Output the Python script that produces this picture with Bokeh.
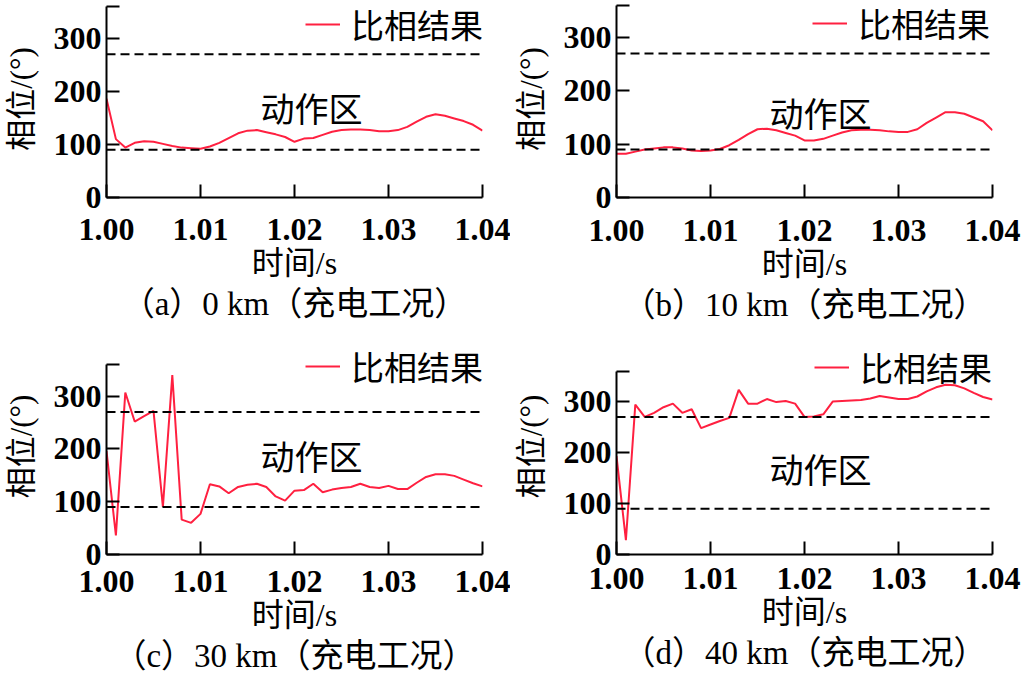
from bokeh.plotting import figure
from bokeh.layouts import column, row
from bokeh.models import Span, Label, Legend, LegendItem, FixedTicker, NumeralTickFormatter, Title
from bokeh.embed import file_html
from bokeh.resources import INLINE

# time axis (s)
time_s = [1.000, 1.001, 1.002, 1.003, 1.004, 1.005, 1.006, 1.007, 1.008, 1.009,
          1.010, 1.011, 1.012, 1.013, 1.014, 1.015, 1.016, 1.017, 1.018, 1.019,
          1.020, 1.021, 1.022, 1.023, 1.024, 1.025, 1.026, 1.027, 1.028, 1.029,
          1.030, 1.031, 1.032, 1.033, 1.034, 1.035, 1.036, 1.037, 1.038, 1.039,
          1.040]

# phase comparison result (deg)
phase_a = [186, 110, 94, 103, 106, 105, 101, 97, 94, 93, 92, 96, 103, 112, 121, 126, 127, 123, 119, 114,
           105, 111, 112, 118, 124, 127, 128, 128, 127, 125, 125, 127, 133, 143, 152, 157, 154, 149, 144, 137,
           126]
phase_b = [82, 82, 86, 90, 92, 94, 94, 92, 88, 87, 88, 91, 98, 108, 119, 128, 129, 126, 121, 116,
           107, 107, 110, 116, 122, 126, 127, 127, 126, 124, 123, 123, 128, 140, 150, 160, 160, 157, 150, 143,
           126]
phase_c = [196, 36, 307, 252, 262, 272, 90, 340, 66, 60, 77, 133, 129, 116, 128, 132, 134, 128, 110, 102,
           121, 122, 134, 118, 123, 126, 128, 134, 128, 126, 130, 124, 124, 136, 147, 152, 152, 149, 142, 135,
           129]
phase_d = [193, 28, 294, 270, 278, 289, 296, 278, 285, 248, 255, 262, 268, 323, 296, 296, 305, 299, 301, 296,
           270, 271, 275, 300, 301, 302, 303, 306, 311, 308, 305, 305, 310, 320, 328, 333, 332, 326, 317, 309,
           304]

x_ticks = [1.00, 1.01, 1.02, 1.03, 1.04]
y_ticks = [0, 100, 200, 300, 360]
boundaries = [90, 270]
captions = ["（a）0 km（充电工况）", "（b）10 km（充电工况）", "（c）30 km（充电工况）", "（d）40 km（充电工况）"]
legend_label = "比相结果"
zone_label = "动作区"
x_label = "时间/s"
y_label = "相位/(°)"

RED = "#ff2040"
SERIF = "Liberation Serif"
CJK = "Noto Sans CJK SC"
MIX = "Liberation Serif, Noto Sans CJK SC"


def make_panel(values, caption, w, h, left, right, top, bottom, y_end, tick_standoff, leg_xy, zone_xy):
    p = figure(width=w, height=h, x_range=(1.0, 1.04), y_range=(0, y_end),
               output_backend="svg", toolbar_location=None,
               min_border_left=left, min_border_right=right,
               min_border_top=top, min_border_bottom=bottom)
    p.outline_line_color = None
    p.xgrid.visible = False
    p.ygrid.visible = False
    p.background_fill_color = "white"
    p.border_fill_color = "white"

    r = p.line(time_s, values, line_color=RED, line_width=2)
    for b in boundaries:
        p.add_layout(Span(location=b, dimension="width", line_color="black",
                          line_width=2, line_dash="9 5"))

    for ax in (p.xaxis[0], p.yaxis[0]):
        ax.axis_line_width = 2
        ax.axis_line_color = "black"
        ax.major_tick_line_width = 2
        ax.major_tick_line_color = "black"
        ax.major_tick_in = 13
        ax.major_tick_out = 0
        ax.minor_tick_line_color = None
        ax.major_label_text_font = SERIF
        ax.major_label_text_font_size = "32px"
        ax.major_label_text_font_style = "bold"
        ax.major_label_text_color = "black"
        ax.axis_label_text_font_style = "normal"
        ax.axis_label_text_color = "black"
        ax.axis_label_text_font_size = "32px"

    p.xaxis.ticker = FixedTicker(ticks=x_ticks)
    p.xaxis.formatter = NumeralTickFormatter(format="0.00")
    p.xaxis.major_label_standoff = tick_standoff
    p.xaxis.axis_label = x_label
    p.xaxis.axis_label_text_font = MIX
    p.xaxis.axis_label_standoff = 2

    p.yaxis.ticker = FixedTicker(ticks=y_ticks)
    p.yaxis.bounds = (0, 360)
    p.yaxis.major_label_overrides = {360: ""}
    p.yaxis.major_label_standoff = 5
    p.yaxis.axis_label = y_label
    p.yaxis.axis_label_text_font = MIX
    p.yaxis.axis_label_text_font_size = "31px"
    p.yaxis.axis_label_standoff = 12

    p.add_layout(Title(text=caption, align="center", text_font=MIX, text_font_size="33px",
                       text_font_style="normal", text_color="black", standoff=0), "below")

    leg = Legend(items=[LegendItem(label=legend_label, renderers=[r])], location=leg_xy,
                 padding=0, margin=0, spacing=0, border_line_color=None,
                 background_fill_alpha=0, glyph_width=35, glyph_height=20,
                 label_standoff=11, label_height=40,
                 label_text_font=CJK, label_text_font_size="33px", label_text_color="black")
    p.add_layout(leg)

    p.add_layout(Label(x=zone_xy[0], y=zone_xy[1], text=zone_label, text_align="center",
                       text_baseline="middle", text_font=CJK, text_font_size="34px",
                       text_color="black"))
    return p


pa = make_panel(phase_a, captions[0], 510, 337, 104, 28, 0, 138, 371.2, 21, (199, 149), (1.0218, 170))
pb = make_panel(phase_b, captions[1], 511, 337, 103, 29, 0, 140, 369.4, 22, (196, 150), (1.0217, 160))
pc = make_panel(phase_c, captions[2], 510, 337, 104, 28, 1, 120, 409.3, 16, (199, 164), (1.0218, 187))
pd = make_panel(phase_d, captions[3], 511, 337, 103, 29, 1, 117, 423.8, 13, (198, 163), (1.0217, 168))

layout = column(row(pa, pb), row(pc, pd))
open("out.html", "w").write(file_html(layout, INLINE))
